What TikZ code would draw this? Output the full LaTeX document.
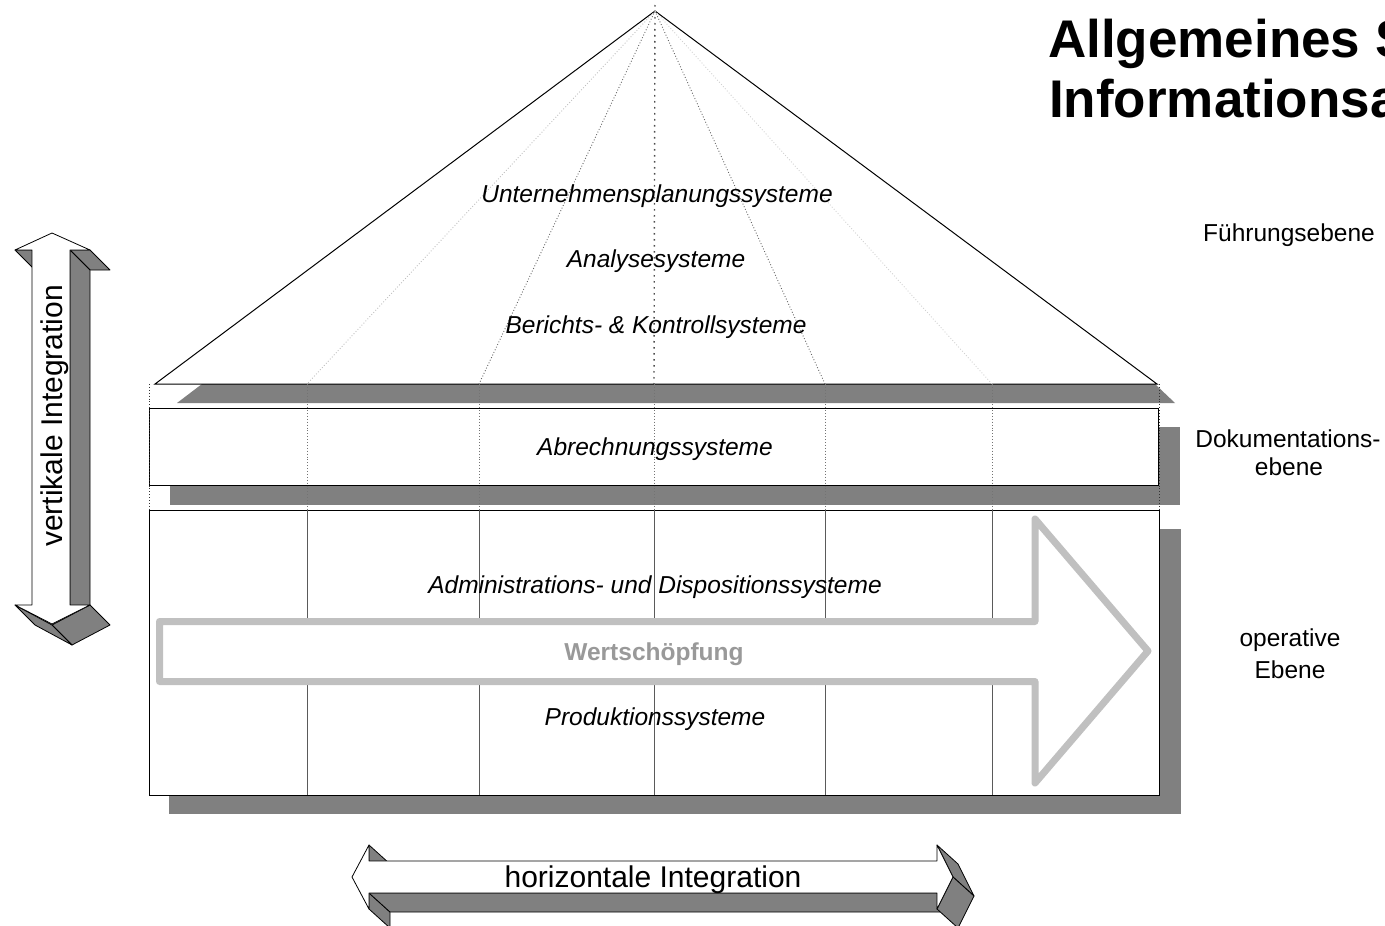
\documentclass[tikz,border=0pt]{standalone}
\usepackage{fontspec}
\setmainfont{Liberation Sans}
\definecolor{shadowgray}{HTML}{808080}
\definecolor{arrowgray}{HTML}{C0C0C0}
\definecolor{wtext}{HTML}{999999}
\definecolor{divgray}{HTML}{5A5A5A}
\begin{document}
\begin{tikzpicture}[x=1pt,y=-1pt,
  face/.style={fill=shadowgray, draw=black, line width=0.8pt, line join=round},
  front/.style={fill=white, draw=black, line width=0.8pt, line join=round},
  shadowbox/.style={fill=shadowgray, draw=none},
  levelbox/.style={fill=white, draw=black, line width=1.1pt},
  lbl/.style={anchor=base, inner sep=0pt, font=\fontsize{24.5}{28}\selectfont},
  ilbl/.style={anchor=base, inner sep=0pt, font=\fontsize{24.5}{28}\selectfont\itshape},
  biglbl/.style={anchor=base, inner sep=0pt, font=\fontsize{30}{34}\selectfont},
  titlelbl/.style={anchor=base west, inner sep=0pt, font=\fontsize{53}{59}\selectfont\bfseries},
  fanlight/.style={draw=black!25, line width=0.9pt, dotted},
  fanmid/.style={draw=black!60, line width=0.9pt, dotted},
  fancenter/.style={draw=black!70, line width=1.4pt, dash pattern=on 1.6pt off 4.4pt},
  dotvert/.style={draw=black!55, line width=0.9pt, dotted},
  divline/.style={draw=divgray, line width=0.9pt},
  wsarrow/.style={fill=white, draw=arrowgray, line width=7pt, line join=round}
]
\useasboundingbox (0,0) rectangle (1385,926);

% ---------- pyramid ----------
\coordinate (apex) at (655,11);
\coordinate (apextop) at (655,5);
\coordinate (bL) at (155,384);
\coordinate (bR) at (1157,384);
\fill[shadowgray] (202,384) -- (1155,384) -- (1175,403) -- (177,403) -- cycle;

% ---------- level boxes with shadows ----------
\fill[shadowgray] (170,427) rectangle (1180,505);
\node[levelbox, minimum width=1009pt, minimum height=77pt, anchor=north west, inner sep=0pt] (dokbox) at (149,408) {};
\fill[shadowgray] (169,529) rectangle (1181,814);
\node[levelbox, minimum width=1010pt, minimum height=285pt, anchor=north west, inner sep=0pt] (opbox) at (149,510) {};

% ---------- pyramid outline ----------
\draw[black, line width=1pt, line join=miter] (bL) -- (apex) -- (bR) -- cycle;

% ---------- fan lines and column lines ----------
\foreach \x/\n in {307/1,479/2,654/3,825/4,992/5} {
  \coordinate (f\n) at (\x,384);
  \coordinate (t\n) at (\x,510);
  \coordinate (u\n) at (\x,795);
}
\draw[fanlight] (apex) -- (f1);
\draw[fanmid] (apex) -- (f2);
\draw[fancenter] (apextop) -- (f3);
\draw[fanmid] (apex) -- (f4);
\draw[draw=black!18, line width=0.9pt, dotted] (apex) -- (f5);
\foreach \n in {1,...,5} {
  \draw[dotvert] (f\n) -- (t\n);
  \draw[divline] (t\n) -- (u\n);
}
\coordinate (eL1) at (149,384); \coordinate (eL2) at (149,510);
\coordinate (eR1) at (1159,384); \coordinate (eR2) at (1159,510);
\draw[dotvert, draw=black!80] (eL1) -- (eL2);
\draw[dotvert, draw=black!80] (eR1) -- (eR2);

% ---------- Wertschoepfung arrow ----------
\draw[wsarrow] (159.5,621.5) -- (1035,621.5) -- (1035,519) -- (1148,651)
  -- (1035,783) -- (1035,681.5) -- (159.5,681.5) -- cycle;

% ---------- vertical 3D arrow ----------
\draw[face] (70,250) -- (90,250) -- (110,270) -- (90,270) -- cycle;
\draw[face] (15,250) -- (32,250) -- (52,270) -- (35,270) -- cycle;
\draw[face] (70,250) -- (70,605) -- (90,625) -- (90,270) -- cycle;
\draw[face] (90,605) -- (52,625) -- (72,645) -- (110,625) -- cycle;
\draw[face] (52,625) -- (15,605) -- (35,625) -- (72,645) -- cycle;
\draw[front] (52,233) -- (90,250) -- (70,250) -- (70,605) -- (90,605) -- (52,624)
  -- (15,605) -- (32,605) -- (32,250) -- (15,250) -- cycle;

% ---------- horizontal 3D arrow ----------
\draw[face] (369,845) -- (369,861) -- (390,880) -- (390,864) -- cycle;
\draw[face] (369,893) -- (369,909) -- (390,928) -- (390,912) -- cycle;
\draw[face] (369,893) -- (937,893) -- (958,912) -- (390,912) -- cycle;
\draw[face] (937,845) -- (953,877) -- (974,896) -- (958,864) -- cycle;
\draw[face] (953,877) -- (937,909) -- (958,928) -- (974,896) -- cycle;
\draw[front] (352,877) -- (369,845) -- (369,861) -- (937,861) -- (937,845) -- (953,877)
  -- (937,909) -- (937,893) -- (369,893) -- (369,909) -- cycle;

% ---------- texts ----------
\node[titlelbl] (title1) at (1048,57) {Allgemeines S};
\node[titlelbl] (title2) at (1049,117) {Informationsa};

\node[ilbl] (unt) at (657,202) {Unternehmensplanungssysteme};
\node[ilbl] (ana) at (656,267) {Analysesysteme};
\node[ilbl] (ber) at (656,333) {Berichts- \& Kontrollsysteme};
\node[ilbl] (abr) at (655,455) {Abrechnungssysteme};
\node[ilbl] (adm) at (655,593) {Administrations- und Dispositionssysteme};
\node[anchor=base, inner sep=0pt, text=wtext, font=\fontsize{24.5}{28}\selectfont\bfseries] (wert) at (654,660) {Wertschöpfung};
\node[ilbl] (prod) at (655,725) {Produktionssysteme};

\node[lbl] (fuehr) at (1289,241) {Führungsebene};
\node[lbl] (dok1) at (1288,447) {Dokumentations-};
\node[lbl] (dok2) at (1289,475) {ebene};
\node[lbl] (op1) at (1290,646) {operative};
\node[lbl] (op2) at (1290,678) {Ebene};

\node[biglbl, rotate=90] (vert) at (62,416) {vertikale Integration};
\node[biglbl] (horiz) at (653,887) {horizontale Integration};
\end{tikzpicture}
\end{document}
